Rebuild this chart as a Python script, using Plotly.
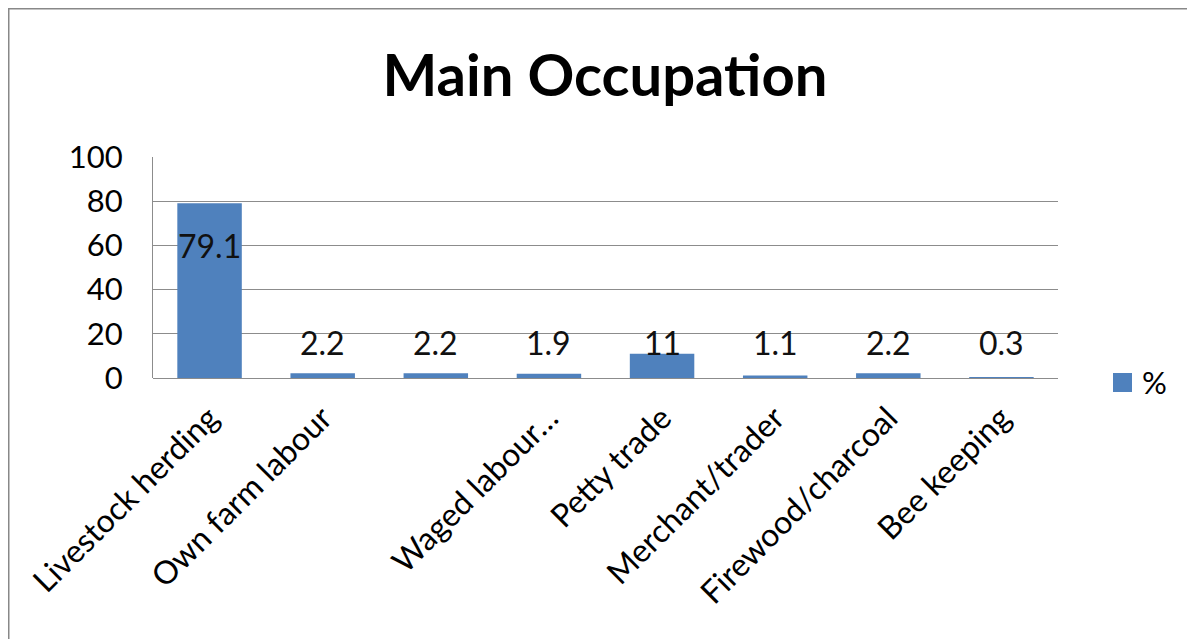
import plotly.graph_objects as go

categories = ["Livestock herding", "Own farm labour", "", "Waged labour…",
              "Petty trade", "Merchant/trader", "Firewood/charcoal", "Bee keeping"]
values = [79.1, 2.2, 2.2, 1.9, 11, 1.1, 2.2, 0.3]
value_text = ["79.1", "2.2", "2.2", "1.9", "11", "1.1", "2.2", "0.3"]
series_name = "%"
y_ticks = [0, 20, 40, 60, 80, 100]

FONT = "Lato, Open Sans, sans-serif"
BAR = "#4F81BD"
GRID = "#8C8C8C"

OFF = 8  # page body margin
L, R, T, B = 153, 1058, 157, 378  # plot area in page pixels
PW, PH = R - L, B - T


def px(xp):
    return (xp - L) / PW


def py(yp):
    return (B - yp) / PH


idx = list(range(len(categories)))

fig = go.Figure()
fig.add_trace(go.Bar(
    x=idx, y=values, name=series_name, marker_color=BAR,
    marker_line_width=0, width=0.57, showlegend=False,
))

# data labels: Excel-like placement
for i, (v, t) in enumerate(zip(values, value_text)):
    ly = 60 if v > 50 else 16
    fig.add_annotation(x=i, y=ly, text=t, showarrow=False,
                       font=dict(family=FONT, size=32, color="#111"),
                       xref="x", yref="y")

# outer chart border
fig.add_shape(type="rect", xref="paper", yref="paper",
              x0=px(8), x1=px(1210), y0=py(660), y1=py(8),
              line=dict(color="#888888", width=3), fillcolor="rgba(0,0,0,0)",
              layer="below")

# legend (manual, Excel-sized key)
fig.add_shape(type="rect", xref="paper", yref="paper",
              x0=px(1113), x1=px(1132), y0=py(392), y1=py(373),
              line=dict(width=0), fillcolor=BAR)
fig.add_annotation(xref="paper", yref="paper", x=px(1140), y=py(382),
                   xanchor="left", yanchor="middle", text=series_name,
                   showarrow=False, font=dict(family=FONT, size=31, color="black"))

W, H = 1195, 639
fig.update_layout(
    width=W, height=H,
    paper_bgcolor="white", plot_bgcolor="white",
    margin=dict(l=L - OFF, r=W - (R - OFF), t=T - OFF, b=H - (B - OFF), autoexpand=False),
    title=dict(text="<b>Main Occupation</b>", x=(605 - OFF) / W, xanchor="center",
               y=1 - (76 - OFF) / H, yanchor="middle",
               font=dict(family=FONT, size=58, color="black")),
    font=dict(family=FONT, color="black"),
    showlegend=False,
)
fig.update_xaxes(
    tickvals=idx, ticktext=categories, range=[-0.5, len(categories) - 0.5],
    tickangle=-45, tickfont=dict(family=FONT, size=32), ticklabelstandoff=14,
    showgrid=False, showline=False, ticks="", zeroline=False, automargin=False,
)
fig.update_yaxes(
    range=[0, 100], tickvals=y_ticks, showgrid=True, gridcolor=GRID, gridwidth=1,
    showline=True, linecolor=GRID, linewidth=1, ticks="", zeroline=True,
    zerolinecolor=GRID, zerolinewidth=1, automargin=False,
    tickfont=dict(family=FONT, size=31), ticklabelstandoff=23,
)

fig.write_html("out.html")
